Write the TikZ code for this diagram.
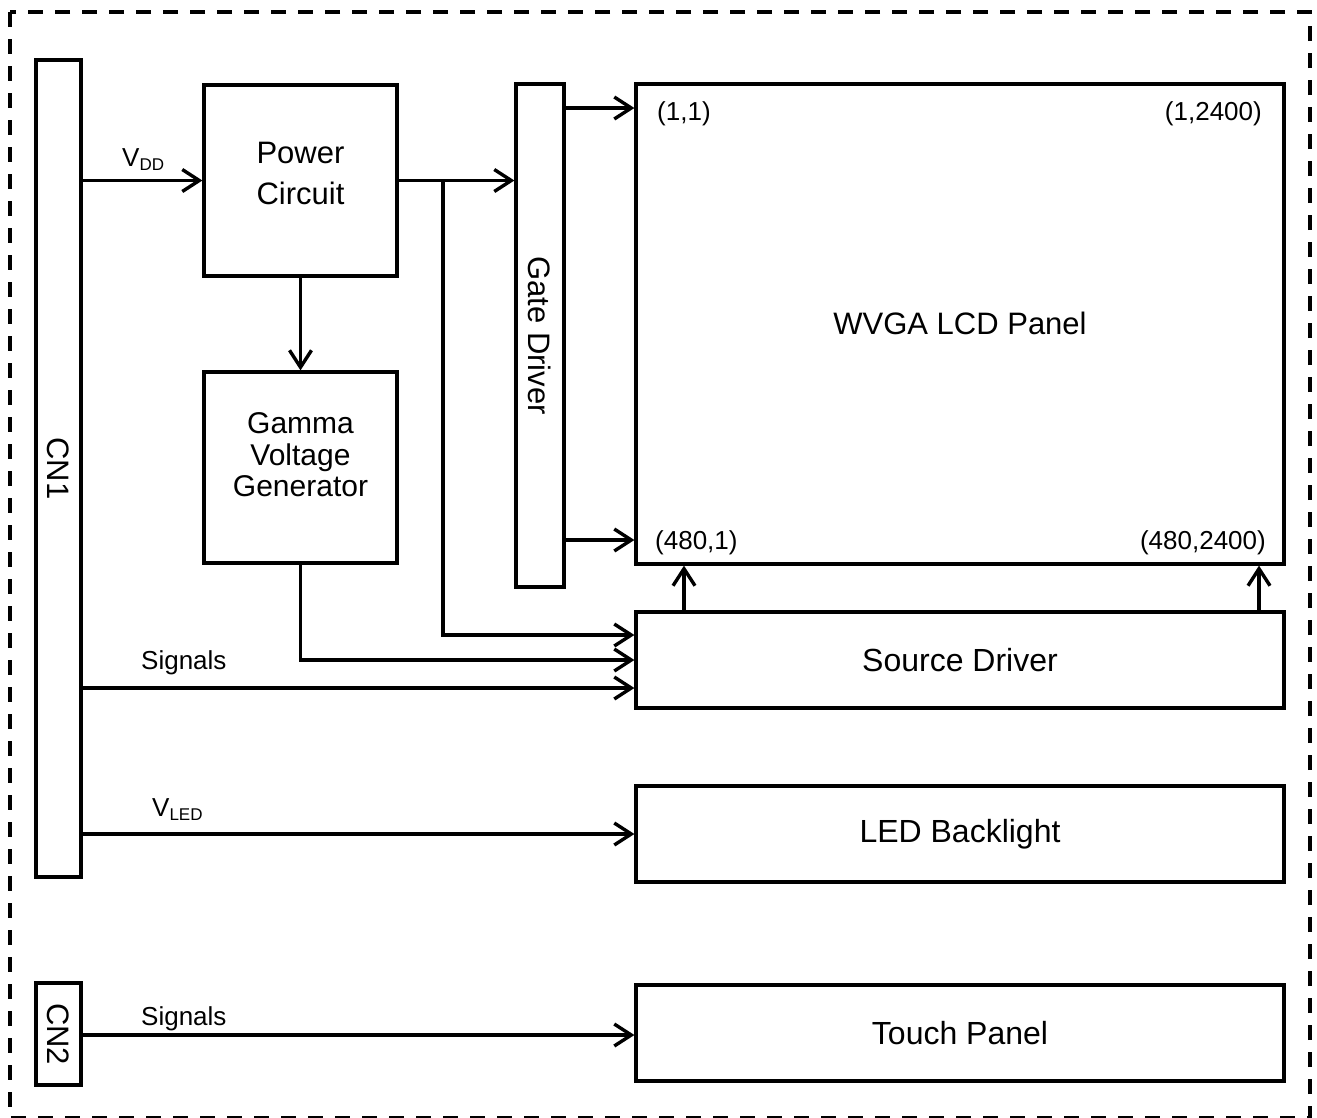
\documentclass[tikz,border=0pt]{standalone}
\usepackage{fontspec}
\setmainfont{Liberation Sans}
\usetikzlibrary{arrows.meta,calc}
\begin{document}
\begin{tikzpicture}[x=1pt,y=-1pt,
  box/.style={draw, line width=3.2pt, inner sep=0pt, font=\fontsize{32}{40}\selectfont},
  bigtxt/.style={inner sep=0pt, font=\fontsize{31}{40}\selectfont},
  midtxt/.style={inner sep=0pt, font=\fontsize{30}{36}\selectfont},
  small/.style={inner sep=0pt, font=\fontsize{26}{30}\selectfont},
  arr/.style={line width=3.2pt, -{Straight Barb[length=17pt,width=22pt,line width=3.4pt]}},
  wire/.style={line width=3.2pt},
  border/.style={line width=3.2pt, dash pattern=on 15pt off 12pt},
]
\useasboundingbox (0,0) rectangle (1317,1117);
\draw[border] (10,12) rectangle (1310,1118);

% boxes
\node[box, minimum width=45pt, minimum height=817pt] (cn1) at (58.5,468.5) {};
\node[box, minimum width=45pt, minimum height=102pt] (cn2) at (58.5,1034) {};
\node[box, minimum width=193pt, minimum height=191pt] (pc) at (300.5,180.5) {};
\node[box, minimum width=193pt, minimum height=191pt] (gv) at (300.5,467.5) {};
\node[box, minimum width=48pt, minimum height=503pt] (gd) at (540,335.5) {};
\node[box, minimum width=648pt, minimum height=480pt] (lcd) at (960,324) {};
\node[box, minimum width=648pt, minimum height=96pt] (sd) at (960,660) {Source Driver};
\node[box, minimum width=648pt, minimum height=96pt] (led) at (960,834) {LED Backlight};
\node[box, minimum width=648pt, minimum height=96pt] (tp) at (960,1033) {Touch Panel};

% box texts
\node[bigtxt, rotate=-90] (cn1t) at (cn1.center) {CN1};
\node[bigtxt, rotate=-90] (cn2t) at (cn2.center) {CN2};
\node[bigtxt, rotate=-90] (gdt) at (gd.center) {Gate Driver};
\node[bigtxt, anchor=base] (pc1) at (300.5,163) {Power};
\node[bigtxt, anchor=base] (pc2) at (300.5,204) {Circuit};
\node[midtxt, anchor=base] (gv1) at (300.5,433) {Gamma};
\node[midtxt, anchor=base] (gv2) at (300.5,465) {Voltage};
\node[midtxt, anchor=base] (gv3) at (300.5,496) {Generator};
\node[bigtxt] (lcdt) at (960,323) {WVGA LCD Panel};
\node[small, anchor=base west] (c11) at (657,120) {(1,1)};
\node[small, anchor=base east] (c12) at (1262,120) {(1,2400)};
\node[small, anchor=base west] (c21) at (655,549) {(480,1)};
\node[small, anchor=base east] (c22) at (1266,549) {(480,2400)};

% connectors
\coordinate (br) at (443,180.5);
\draw[arr] (cn1.east |- pc.west) -- (pc.west);
\node[small, anchor=base west] (vdd) at (122,166) {V\raisebox{-4pt}{\fontsize{17}{17}\selectfont DD}};
\draw[arr] (pc.east) -- (gd.west |- pc.east);
\draw[arr] (br) |- ($(sd.west)+(0,-25)$);
\draw[arr] (pc.south) -- (gv.north);
\draw[arr] (gv.south) |- (sd.west);
\draw[arr] (cn1.east |- 0,688) -- (sd.west |- 0,688);
\node[small, anchor=base west] (sig1) at (141,669) {Signals};
\draw[arr] (gd.east |- 0,108) -- (lcd.west |- 0,108);
\draw[arr] (gd.east |- 0,540) -- (lcd.west |- 0,540);
\draw[arr] (sd.north -| 684,0) -- (lcd.south -| 684,0);
\draw[arr] (sd.north -| 1259,0) -- (lcd.south -| 1259,0);
\draw[arr] (cn1.east |- led.west) -- (led.west);
\node[small, anchor=base west] (vled) at (152,816) {V\raisebox{-4pt}{\fontsize{17}{17}\selectfont LED}};
\draw[arr] (cn2.east |- 0,1035) -- (tp.west |- 0,1035);
\node[small, anchor=base west] (sig2) at (141,1025) {Signals};
\end{tikzpicture}
\end{document}
